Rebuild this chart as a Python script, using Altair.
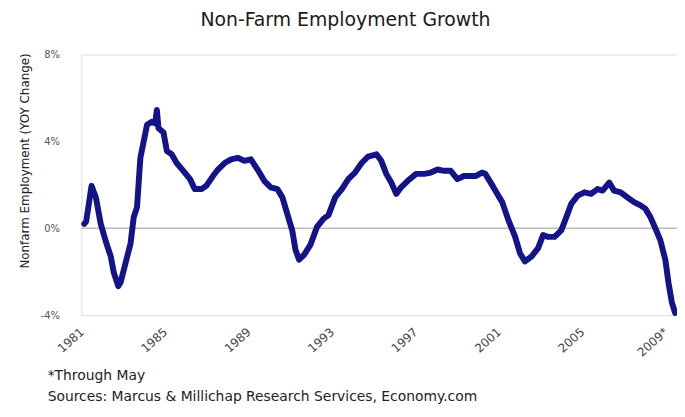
import altair as alt
import pandas as pd

# Year-over-year nonfarm employment change (%)
years = [1981.00, 1981.09, 1981.35, 1981.56, 1981.79, 1982.03, 1982.27, 1982.42, 1982.63, 1982.74,
         1982.98, 1983.22, 1983.37, 1983.53, 1983.69, 1983.85, 1984.01, 1984.24, 1984.40, 1984.48,
         1984.56, 1984.80, 1984.96, 1985.19, 1985.43, 1985.75, 1986.07, 1986.30, 1986.62, 1986.85,
         1987.17, 1987.41, 1987.73, 1988.04, 1988.36, 1988.68, 1988.99, 1989.31, 1989.63, 1989.94,
         1990.26, 1990.50, 1990.73, 1990.97, 1991.13, 1991.30, 1991.54, 1991.84, 1992.16, 1992.48,
         1992.71, 1993.03, 1993.35, 1993.66, 1993.98, 1994.30, 1994.61, 1995.01, 1995.24, 1995.48,
         1995.72, 1995.96, 1996.19, 1996.51, 1996.91, 1997.30, 1997.62, 1997.94, 1998.25, 1998.57,
         1998.89, 1999.20, 1999.60, 1999.76, 2000.07, 2000.23, 2000.61, 2000.85, 2001.04, 2001.34,
         2001.66, 2001.89, 2002.13, 2002.45, 2002.76, 2003.00, 2003.24, 2003.55, 2003.87, 2004.11,
         2004.35, 2004.66, 2004.98, 2005.30, 2005.61, 2005.85, 2006.17, 2006.40, 2006.72, 2007.04,
         2007.36, 2007.67, 2007.90, 2008.15, 2008.38, 2008.62, 2008.86, 2009.01, 2009.17, 2009.33]
values = [0.2, 0.3, 1.95, 1.4, 0.2, -0.6, -1.3, -2.06, -2.67, -2.5,
          -1.6, -0.7, 0.5, 0.97, 3.24, 4.0, 4.76, 4.9, 4.83, 5.44,
          4.6, 4.4, 3.55, 3.4, 3.0, 2.64, 2.26, 1.8, 1.8, 1.95,
          2.4, 2.7, 3.0, 3.17, 3.24, 3.1, 3.17, 2.7, 2.18, 1.88,
          1.8, 1.42, 0.67, -0.1, -1.0, -1.45, -1.23, -0.77, 0.06, 0.44,
          0.6, 1.42, 1.8, 2.26, 2.56, 3.0, 3.3, 3.4, 3.1, 2.5,
          2.1, 1.58, 1.88, 2.18, 2.5, 2.5, 2.56, 2.7, 2.64, 2.64,
          2.26, 2.4, 2.4, 2.4, 2.56, 2.5, 1.9, 1.5, 1.2, 0.36,
          -0.4, -1.15, -1.53, -1.3, -0.92, -0.32, -0.4, -0.4, -0.1, 0.5,
          1.12, 1.5, 1.65, 1.58, 1.8, 1.73, 2.1, 1.73, 1.65, 1.42,
          1.2, 1.05, 0.9, 0.5, 0.0, -0.55, -1.45, -2.5, -3.4, -3.9]

tick_years = [1981, 1985, 1989, 1993, 1997, 2001, 2005, 2009]
tick_labels = ["1981", "1985", "1989", "1993", "1997", "2001", "2005", "2009*"]
y_ticks = [-4, 0, 4, 8]
x_domain = [1980.86, 2009.42]
y_domain = [-4, 8]

chart_title = "Non-Farm Employment Growth"
y_title = "Nonfarm Employment (YOY Change)"
notes = ["*Through May", "Sources: Marcus & Millichap Research Services, Economy.com"]

FONT = "DejaVu Sans"

df = pd.DataFrame({"year": years, "value": values})

label_expr = " : ".join(
    f"datum.value == {y} ? '{t}'" for y, t in zip(tick_years, tick_labels)
) + " : ''"

x_enc = alt.X(
    "year:Q",
    scale=alt.Scale(domain=x_domain, nice=False, zero=False),
    axis=alt.Axis(
        values=tick_years, labelExpr=label_expr, labelAngle=-42,
        labelAlign="right", labelBaseline="top", labelOffset=-6,
        labelPadding=11, ticks=False, domain=False, grid=False,
        labelFlush=False, labelOverlap=False, labelBound=False,
        labelFont=FONT, labelFontSize=12, labelColor="#444", title="",
    ),
)
y_enc = alt.Y(
    "value:Q",
    scale=alt.Scale(domain=y_domain, nice=False, zero=False),
    axis=alt.Axis(
        values=y_ticks, labelExpr="datum.value + '%'", ticks=False,
        domain=False, grid=False, labelPadding=22, labelFont=FONT,
        labelFontSize=10, labelColor="#555", title=y_title,
        titleFont=FONT, titleFontSize=12, titleFontWeight="normal",
        titleColor="#222", titleX=-57, titleY=107, titleAngle=270,
        titleAlign="center", titleBaseline="middle",
    ),
)

zero = alt.Chart(pd.DataFrame({"v": [0]})).mark_rule(
    color="#9a9a9a", strokeWidth=1
).encode(y=alt.Y("v:Q", scale=alt.Scale(domain=y_domain, nice=False)))

line = alt.Chart(df).mark_line(
    color="#14148a", strokeWidth=6, strokeJoin="round", strokeCap="round"
).encode(x=x_enc, y=y_enc)

note1 = alt.Chart(pd.DataFrame({"t": [notes[0]]})).mark_text(
    align="left", baseline="middle", font=FONT, fontSize=14, color="#222"
).encode(x=alt.value(-34), y=alt.value(325), text="t:N")
note2 = alt.Chart(pd.DataFrame({"t": [notes[1]]})).mark_text(
    align="left", baseline="middle", font=FONT, fontSize=14, color="#222"
).encode(x=alt.value(-34), y=alt.value(346), text="t:N")

chart = alt.layer(zero, line, note1, note2).properties(
    width=601,
    height=263,
    title=alt.TitleParams(
        chart_title, anchor="middle", dx=-34, offset=20, fontSize=19,
        font=FONT, fontWeight="normal", color="#1a1a1a",
    ),
    autosize=alt.AutoSizeParams(type="none"),
    padding={"left": 74, "top": 45, "right": 0, "bottom": 100},
).configure_view(stroke=None).configure(background="white")

chart.save("out.html", embed_options={"renderer": "svg", "actions": False})
